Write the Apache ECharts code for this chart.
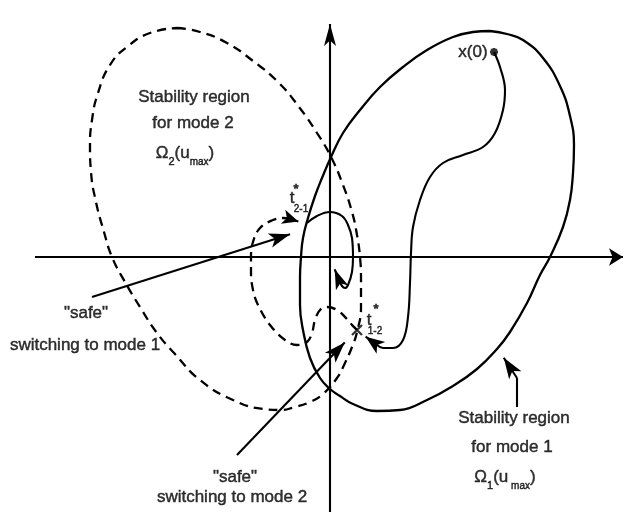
<!DOCTYPE html>
<html>
<head>
<meta charset="utf-8">
<script src="https://cdn.jsdelivr.net/npm/echarts@6/dist/echarts.min.js"></script>
<style>
  html, body { margin: 0; padding: 0; background: #fff; }
  #chart { width: 631px; height: 512px; }
</style>
</head>
<body>
<div id="chart"></div>
<script>
// Phase plane of the switched system; origin at the crossing of the two state axes.

// Boundary of the stability region for mode 1, Ω1(umax) (solid).
const region1 = [[160,226],[177,223],[193,217],[213,199],[230,171],[240,141],[244,112],[243,84],[240,57],[233,30],[220,0],[210,-18],[197,-46],[180,-75],[167,-92],[147,-112],[123,-129],[97,-143],[70,-153],[47,-154],[23,-147],[10,-139],[0,-132],[-10,-121],[-20,-101],[-27,-73],[-30,-48],[-30,-21],[-29,0],[-27,19],[-22,39],[-15,61],[-8,79],[1,100],[13,124],[30,147],[50,170],[73,190],[97,207],[123,220],[143,225],[160,226]];

// Boundary of the stability region for mode 2, Ω2(umax) (dashed).
const region2 = [[-153,229],[-130,225],[-103,214],[-77,196],[-52,175],[-31,150],[-13,124],[1,100],[13,72],[22,45],[27,22],[30,0],[31,-23],[31,-50],[27,-75],[22,-90],[15,-106],[7,-121],[-7,-137],[-20,-145],[-35,-150],[-50,-153],[-66,-152],[-97,-143],[-130,-123],[-155,-97],[-173,-76],[-190,-50],[-205,-25],[-218,0],[-226,25],[-234,55],[-239,85],[-240,110],[-238,137],[-232,164],[-220,192],[-203,210],[-180,224],[-153,229]];

// Trajectory: mode 1 from x(0) to the switch t*1-2.
const pathMode1First = [[164,205],[170,190],[175,167],[173,147],[165,124],[153,110],[133,102],[113,94],[100,80],[90,57],[83,30],[81,4],[80,-26],[78,-60],[73,-83],[63,-91],[53,-91],[47,-88]];
// Trajectory: mode 2 from t*1-2 to t*2-1.
const pathMode2 = [[27,-73],[23,-69],[17,-62],[7,-53],[-3,-50],[-10,-53],[-15,-63],[-18,-76],[-23,-85],[-33,-88],[-45,-83],[-60,-68],[-72,-48],[-77,-33],[-79,-15],[-79,0],[-77,15],[-70,29],[-57,37],[-47,39],[-40,38]];
// Trajectory: mode 1 from t*2-1 into the origin.
const pathMode1Last = [[-23,34],[-13,41],[0,45],[12,41],[18,32],[22,19],[23,0],[22,-15],[18,-28],[15,-31],[12,-29],[9,-23]];

// Key states.
const initialState = [164, 205];
const switch12 = [27, -73];
const switch21 = [-24, 33];

// Straight pointers: tail, tip, arrowhead [width, length].
const pointers = [
  { from: [-295, 0], to: [300, 0], head: [13, 14] },        // horizontal state axis
  { from: [0, -255], to: [0, 244], head: [9, 22] },         // vertical state axis
  { from: [-238, -40], to: [-30, 26], head: [11, 21] },     // "safe" switching to mode 1
  { from: [-93, -198], to: [22, -78], head: [11, 21] },     // "safe" switching to mode 2
  { from: [187, -121], to: [168, -92], head: [11, 21] },    // Ω1 label pointer
  { from: [47, -88], to: [28, -74], head: [11, 19] },       // arrival at t*1-2
  { from: [-40, 38], to: switch21, head: [11, 16] },        // arrival at t*2-1
  { from: [9, -23], to: [1, -3], head: [10, 20] }           // approach to the origin
];
const labelLeader = [[187, -150], [187, -121]];

// Text annotations: [x, y, text].
const texts = [
  [-136, 160, 'Stability region'],
  [-137, 134, 'for mode 2'],
  [-145, 104, '{o|Ω}{s|2}{o|(u}{m|max}{o|)}'],
  [184, -161, 'Stability region'],
  [182, -190, 'for mode 1'],
  [175, -220, '{o|Ω}{s|1}{o|(u}{m| max}{o|)}'],
  [-244, -56, '"safe"'],
  [-245, -88, 'switching to mode 1'],
  [-95, -220, '"safe"'],
  [-98, -240, 'switching to mode 2'],
  [143, 205, 'x(0)'],
  [-38, 59, 't'],
  [-34, 68, '{b|*}'],
  [-29, 52, '{m|2-1}'],
  [39, -63, 't'],
  [46, -52, '{b|*}'],
  [45, -70, '{m|1-2}']
];

const FONT = '"Liberation Sans", Arial, Helvetica, sans-serif';
const INK = '#000';
const TEXT_INK = { color: '#000', textBorderColor: '#000', textBorderWidth: 0.45 };

// Place the arrow symbol so that its tip lands on the target point.
function arrowEnd(from, tip, len) {
  const dx = tip[0] - from[0], dy = tip[1] - from[1];
  const d = Math.hypot(dx, dy);
  return [tip[0] - dx / d * len / 2, tip[1] - dy / d * len / 2];
}

const pointerLines = pointers.map(p => [
  { coord: p.from, symbol: 'none' },
  { coord: arrowEnd(p.from, p.to, p.head[1]), symbol: 'arrow', symbolSize: p.head }
]);
pointerLines.push([
  { coord: labelLeader[0], symbol: 'none' },
  { coord: labelLeader[1], symbol: 'none' }
]);

function curve(name, data, dashed, width, smooth) {
  return {
    name, type: 'line', data, smooth: smooth, showSymbol: false, symbol: 'none',
    silent: true, z: 3,
    lineStyle: { color: INK, width: width, type: dashed ? [9, 6] : 'solid', cap: 'butt' }
  };
}

const richStyles = {
  o: Object.assign({ fontSize: 17, lineHeight: 28, fontFamily: FONT }, TEXT_INK),
  s: Object.assign({ fontSize: 11, lineHeight: 12, verticalAlign: 'bottom', fontFamily: FONT }, TEXT_INK),
  m: Object.assign({ fontSize: 10, lineHeight: 18, verticalAlign: 'bottom', fontFamily: FONT }, TEXT_INK),
  b: Object.assign({ fontSize: 13, fontWeight: 'bold', fontFamily: FONT }, TEXT_INK)
};

const chart = echarts.init(document.getElementById('chart'), null, { renderer: 'canvas' });
chart.setOption({
  animation: false,
  backgroundColor: '#fff',
  grid: { left: 0, top: 0, width: 631, height: 512, containLabel: false },
  xAxis: { type: 'value', min: -330, max: 301, show: false },
  yAxis: { type: 'value', min: -255, max: 257, show: false },
  series: [
    curve('Ω2 boundary', region2, true, 2.3, 0.5),
    curve('Ω1 boundary', region1, false, 2.3, 0.45),
    curve('mode 1 (start)', pathMode1First, false, 2.1, 0.4),
    curve('mode 2', pathMode2, true, 2.3, 0.4),
    curve('mode 1 (end)', pathMode1Last, false, 2.1, 0.4),
    {
      name: 'pointers', type: 'line', data: [], silent: true, z: 4,
      markLine: {
        silent: true, animation: false,
        label: { show: false },
        lineStyle: { color: INK, width: 2.1, type: 'solid' },
        emphasis: { disabled: true },
        data: pointerLines
      }
    },
    {
      name: 'states', type: 'scatter', silent: true, z: 5,
      data: [
        { value: switch12, symbol: 'path://M0,0L10,10M10,0L0,10', symbolSize: 10,
          itemStyle: { color: 'none', borderColor: INK, borderWidth: 2.2 } },
        { value: initialState, symbol: 'path://M5,0L5,10M0,5L10,5M1.5,1.5L8.5,8.5M8.5,1.5L1.5,8.5', symbolSize: 8,
          itemStyle: { color: 'none', borderColor: INK, borderWidth: 2.4 } }
      ]
    },
    {
      name: 'annotations', type: 'scatter', silent: true, z: 6,
      symbolSize: 1, itemStyle: { color: 'rgba(0,0,0,0)' },
      data: texts.map(t => ({ value: [t[0], t[1]] })),
      label: Object.assign({
        show: true, position: 'inside',
        fontFamily: FONT, fontSize: 17,
        formatter: p => texts[p.dataIndex][2],
        rich: richStyles
      }, TEXT_INK)
    }
  ]
});
</script>
</body>
</html>
